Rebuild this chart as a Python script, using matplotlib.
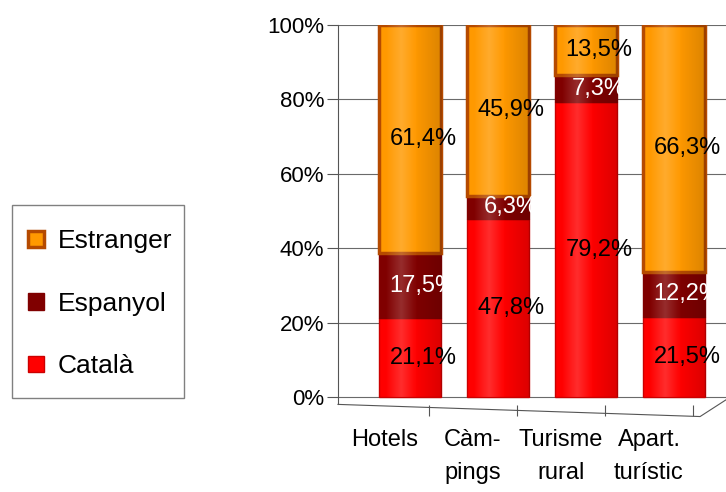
import matplotlib.pyplot as plt
import numpy as np
from matplotlib.transforms import ScaledTranslation

categories = ["Hotels", "Càm-\npings", "Turisme\nrural", "Apart.\nturístic"]
catala = [21.1, 47.8, 79.2, 21.5]
espanyol = [17.5, 6.3, 7.3, 12.2]
estranger = [61.4, 45.9, 13.5, 66.3]

series = [
    ("Català", catala, "#FF0000", "#CC0000", "black"),
    ("Espanyol", espanyol, "#800000", "#800000", "white"),
    ("Estranger", estranger, "#FF9900", "#B54A00", "black"),
]

plt.rcParams["font.family"] = ["Liberation Sans", "DejaVu Sans"]

W, H = 726, 492
fig = plt.figure(figsize=(W / 100, H / 100), dpi=100)

# axes placed in pixel terms; it runs past the right edge of the figure on purpose
left_px, right_px = 338, 762
top_px, bottom_px = 25, 404.4
ax = fig.add_axes([left_px / W, (H - bottom_px) / H,
                   (right_px - left_px) / W, (bottom_px - top_px) / H])

x = np.arange(len(categories))
width = 0.71
bottom = np.zeros(len(categories))
handles = []
for name, vals, col, edge, tcol in series:
    lw = 2.5 if name == "Estranger" else 1.0
    bars = ax.bar(x, vals, width, bottom=bottom, color=col, edgecolor=edge,
                  linewidth=lw, zorder=3, label=name)
    handles.append(bars)
    off = ScaledTranslation(13 / 100, 0, fig.dpi_scale_trans)
    for xi, v, b in zip(x, vals, bottom):
        ax.text(xi, b + v / 2, f"{v:.1f}".replace(".", ",") + "%",
                transform=ax.transData + off, ha="center", va="center",
                fontsize=17, color=tcol, zorder=6)
    bottom += np.array(vals)

# cylinder shading across each column
prof = np.linspace(0, 1, 64)
shade = np.zeros((1, 64, 4))
light = np.clip(1 - np.abs(prof - 0.35) / 0.25, 0, 1) * 0.18
dark = np.clip((prof - 0.55) / 0.45, 0, 1) * 0.14
shade[0, :, :3] = np.where(light[:, None] > 0, 1.0, 0.0)
shade[0, :, 3] = light + dark
for xi in x:
    clip = plt.Rectangle((xi - width / 2, 0), width, 100, transform=ax.transData)
    im = ax.imshow(shade, extent=(xi - width / 2, xi + width / 2, 0, 100),
                   aspect="auto", zorder=4, interpolation="bilinear")
    im.set_clip_path(clip)

ax.set_xlim(-0.818, 4.0)
ax.set_ylim(-2, 100)
ax.set_yticks(range(0, 101, 20))
ax.set_yticklabels([f"{t}%" for t in range(0, 101, 20)], fontsize=16)
ax.tick_params(axis="y", length=8, width=0.8, color="#555555", pad=2)
ax.yaxis.grid(True, color="#6a6a6a", linewidth=0.8)
ax.set_axisbelow(True)

for s in ["top", "right", "bottom"]:
    ax.spines[s].set_visible(False)
ax.spines["left"].set_color("#555555")
ax.spines["left"].set_linewidth(0.8)

# category labels and separators sit on the slanted front edge of the floor
shift = ScaledTranslation(-25 / 100, 0, fig.dpi_scale_trans)
ax.set_xticks(x)
ax.set_xticklabels(categories, fontsize=17, linespacing=1.6)
ax.tick_params(axis="x", length=0, pad=18)
for lab in ax.get_xticklabels():
    lab.set_transform(lab.get_transform() + shift)
ax.set_xticks(x + 0.5, minor=True)
ax.tick_params(axis="x", which="minor", length=8, width=0.8, color="#555555",
               direction="in", pad=0)
for t in ax.xaxis.get_minor_ticks():
    t.tick1line.set_transform(t.tick1line.get_transform() + shift
                              + ScaledTranslation(0, -0.12, fig.dpi_scale_trans))
ax.plot([0, 0.854, 0.915], [0.0, -0.032, 0.012], transform=ax.transAxes,
        color="#555555", linewidth=0.8, clip_on=False)

# legend entries without their own frame; the box is drawn separately
fig.legend(handles=handles[::-1], loc="upper left",
           bbox_to_anchor=(12 / W, 1 - 213 / H), fontsize=19, frameon=False,
           handlelength=0.6, handleheight=0.6, handletextpad=0.5,
           labelspacing=1.46, borderpad=0.62, borderaxespad=0)
fig.add_artist(plt.Rectangle((12 / W, 1 - 398 / H), 172 / W, 193 / H,
                             transform=fig.transFigure, fill=False,
                             edgecolor="#808080", linewidth=1.0))

fig.savefig("out.png", dpi=100)
